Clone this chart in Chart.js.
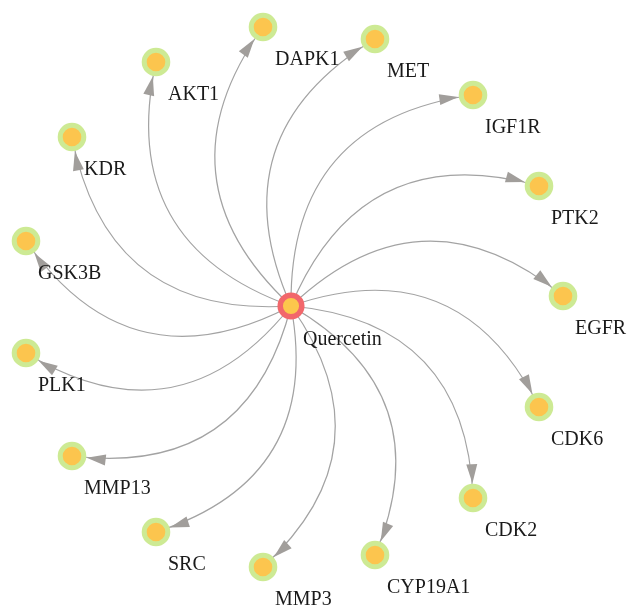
<!DOCTYPE html>
<html>
<head>
<meta charset="utf-8">
<script src="https://cdn.jsdelivr.net/npm/chart.js@4"></script>
<style>
    html, body { margin: 0; padding: 0; background: #ffffff; }
    #net { display: block; }
</style>
</head>
<body>
<canvas id="net" width="628" height="605"></canvas>
<script>
/* =====================================================
   DATA
===================================================== */

const sourceName = "Quercetin";
const sourceX = [291];
const sourceY = [306];

const targetNames = [
    "DAPK1", "MET", "IGF1R", "PTK2", "EGFR", "CDK6", "CDK2", "CYP19A1",
    "MMP3", "SRC", "MMP13", "PLK1", "GSK3B", "KDR", "AKT1"
];
const targetX = [
    263, 375, 473, 539, 563, 539, 473, 375,
    263, 156, 72, 26, 26, 72, 156
];
const targetY = [
    27, 39, 95, 186, 296, 407, 498, 555,
    567, 532, 456, 353, 241, 137, 62
];


/* =====================================================
   STYLE
===================================================== */

const edgeColor = "#a3a3a3";
const arrowColor = "#a19e9b";
const labelFont = "20px 'Liberation Serif', 'DejaVu Serif', serif";
const bend = 0.44;          // control point offset, share of edge length
const nodeRadius = 14.3;    // outer radius incl. ring


/* =====================================================
   EDGE + LABEL PLUGIN
===================================================== */

const networkPlugin = {
    id: "network",

    beforeDatasetsDraw(chart) {
        const ctx = chart.ctx;
        const xs = chart.scales.x, ys = chart.scales.y;
        const sx = xs.getPixelForValue(sourceX[0]);
        const sy = ys.getPixelForValue(sourceY[0]);

        ctx.save();
        targetNames.forEach((name, i) => {
            const tx = xs.getPixelForValue(targetX[i]);
            const ty = ys.getPixelForValue(targetY[i]);
            const dx = tx - sx, dy = ty - sy;

            // bend every edge to the same side
            const cx = (sx + tx) / 2 + bend * dy;
            const cy = (sy + ty) / 2 - bend * dx;

            ctx.strokeStyle = edgeColor;
            ctx.lineWidth = 1.2;
            ctx.beginPath();
            ctx.moveTo(sx, sy);
            ctx.quadraticCurveTo(cx, cy, tx, ty);
            ctx.stroke();

            // arrow head touching the node ring
            let ux = tx - cx, uy = ty - cy;
            const len = Math.hypot(ux, uy);
            ux /= len; uy /= len;
            const tipX = tx - ux * (nodeRadius + 0.5);
            const tipY = ty - uy * (nodeRadius + 0.5);
            const baseX = tipX - ux * 19;
            const baseY = tipY - uy * 19;

            ctx.fillStyle = arrowColor;
            ctx.beginPath();
            ctx.moveTo(tipX, tipY);
            ctx.lineTo(baseX - uy * 5.5, baseY + ux * 5.5);
            ctx.lineTo(baseX + uy * 5.5, baseY - ux * 5.5);
            ctx.closePath();
            ctx.fill();
        });
        ctx.restore();
    },

    afterDatasetsDraw(chart) {
        const ctx = chart.ctx;
        const xs = chart.scales.x, ys = chart.scales.y;

        ctx.save();
        ctx.font = labelFont;
        ctx.fillStyle = "#1a1a1a";
        ctx.textAlign = "left";
        ctx.textBaseline = "alphabetic";

        targetNames.forEach((name, i) => {
            const px = xs.getPixelForValue(targetX[i]);
            const py = ys.getPixelForValue(targetY[i]);
            ctx.fillText(name, px + 12, py + 38);
        });

        ctx.fillText(
            sourceName,
            xs.getPixelForValue(sourceX[0]) + 12,
            ys.getPixelForValue(sourceY[0]) + 39
        );
        ctx.restore();
    }
};


/* =====================================================
   CHART
===================================================== */

new Chart(document.getElementById("net"), {
    type: "scatter",
    data: {
        datasets: [
            {
                label: "targets",
                data: targetX.map((x, i) => ({ x, y: targetY[i] })),
                pointRadius: 11.8,
                pointBorderWidth: 5,
                pointBackgroundColor: "#fcc54e",
                pointBorderColor: "#cdea94",
                pointHoverRadius: 11.8
            },
            {
                label: "source",
                data: sourceX.map((x, i) => ({ x, y: sourceY[i] })),
                pointRadius: 10.8,
                pointBorderWidth: 5.5,
                pointBackgroundColor: "#fcc74c",
                pointBorderColor: "#f2676b",
                pointHoverRadius: 10.8
            }
        ]
    },
    options: {
        responsive: false,
        animation: false,
        layout: { padding: 0, autoPadding: false },
        scales: {
            x: { type: "linear", min: 0, max: 628, display: false },
            y: { type: "linear", min: 0, max: 605, reverse: true, display: false }
        },
        plugins: {
            legend: { display: false },
            tooltip: { enabled: false }
        }
    },
    plugins: [networkPlugin]
});
</script>
</body>
</html>
